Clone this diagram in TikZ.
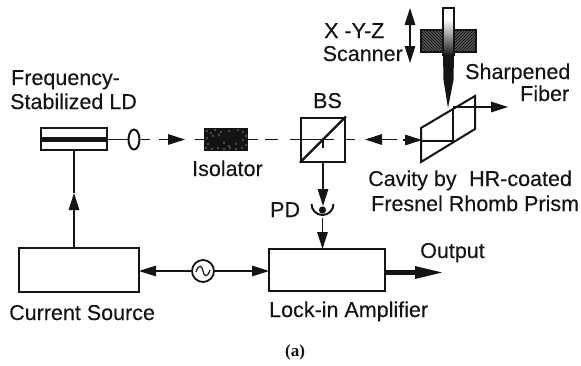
\documentclass[tikz,border=0pt]{standalone}
\usepackage{fontspec}
\setmainfont[FakeBold=0.2]{Liberation Sans}
\newfontfamily\capfont{Liberation Serif}
\usetikzlibrary{arrows.meta,calc,shapes.geometric}
\definecolor{ink}{gray}{0.08}
\tikzset{
  x=1pt,y=-1pt,
  thin line/.style={draw=ink,line width=1.5pt},
  box/.style={draw=ink,line width=2pt,fill=white},
  tip/.style={thin line,-{Triangle[length=17pt,width=10.5pt]},color=ink},
  dash seg/.style={draw=ink,line width=1.5pt},
  lbl/.style={inner sep=0pt,text=ink,font=\fontsize{21.5}{23}\selectfont,anchor=base west},
}
\begin{document}
\begin{tikzpicture}
\fill[white] (0,0) rectangle (581,365);
\useasboundingbox (0,0) rectangle (581,365);

% Laser diode
\draw[box] (41,128) rectangle (107,150);
\fill[ink] (41,136.5) rectangle (107,141.5);
\coordinate (ld) at (107,139.5);
\coordinate (ldb) at (74,150);
\node[draw=ink,line width=2pt,ellipse,minimum width=11pt,minimum height=20pt,inner sep=0pt,fill=white] (lens) at (134,139.5) {};
\draw[thin line] (ld) -- (lens.west);
\draw[dash seg] (lens.east) -- (150,139.5);
\coordinate (a1s) at (159,139.5); \coordinate (a1e) at (185,139.5);
\draw[tip] (a1s) -- (a1e);

% Isolator
\node[fill=ink,minimum width=44pt,minimum height=23pt,inner sep=0pt] (iso) at (226,139.5) {};
\foreach \px/\py in {207/131,211/133,215/130,221/132,229/131,238/130,243/132,246/136,207/138,213/136,219/135,208/144,243/140,246/145,206/148,212/149,218/148,224/149,230/148,236/149,242/148,229/146,236/144,224/143}
  \fill[white] (\px,\py) circle (0.55pt);
\draw[dash seg] (195,139.5) -- (iso.west);
\draw[dash seg] (iso.east) -- (258,139.5);
\draw[dash seg] (265,139.5) -- (278,139.5);

% Beam splitter
\node[draw=ink,line width=2pt,minimum width=44pt,minimum height=44pt,inner sep=0pt] (bs) at (323,139.5) {};
\draw[ink,line width=2.4pt] (bs.south west) -- (bs.north east);
\draw[dash seg] (290,139.5) -- (334,139.5);
\draw[thin line] (323,139.5) -- (323,148);
\draw[dash seg] (bs.east) -- (355,139.5);
\coordinate (a2s) at (380,139.5); \coordinate (a2e) at (365,139.5);
\draw[tip] (a2s) -- (a2e);
\coordinate (a2t) at (380,139.5);
\draw[dash seg] (a2t) -- (397,139.5);

% Prism
\coordinate (pa) at (421,128); \coordinate (pb) at (475,96);
\coordinate (pc) at (475,129); \coordinate (pd) at (421,162);
\draw[ink,line width=2pt,line join=miter] (pa) -- (pb) -- (pc) -- (pd) -- cycle;
\coordinate (pm1) at (453,110); \coordinate (pm2) at (453,141);
\draw[thin line] (pm1) -- (pm2) -- (421,141);
\coordinate (a3s) at (403,140); \coordinate (a3e) at (422,140);
\draw[tip] (a3s) -- (a3e);
\coordinate (a4e) at (508,107);
\draw[tip] (pm1 |- a4e) -- (a4e);

% Fibre holder
\begin{scope}
\clip (421,30) rectangle (448,52);
\foreach \k in {0,3,...,60} \draw[ink,line width=1.5pt] (400+\k,28) -- (426+\k,54);
\end{scope}
\begin{scope}
\clip (448,30) rectangle (476,52);
\foreach \k in {0,3,...,60} \draw[ink,line width=1.5pt] (426+\k,54) -- (452+\k,28);
\end{scope}
\draw[ink,line width=1.5pt] (421,30) rectangle (476,52);

% Fibre
\fill[white] (443,8) rectangle (454,30);
\shade[top color=white,bottom color=ink] (443,20) rectangle (454,56);
\draw[ink,line width=1.4pt] (443,56) -- (443,8) -- (454,8) -- (454,56);
\fill[ink] (443,55) -- (454,55) -- (453.5,80) -- (448,108) -- (443.5,80) -- cycle;

% Scanner arrow
\coordinate (sc1) at (410,8); \coordinate (sc2) at (410,63);
\draw[thin line,color=ink,{Triangle[length=17pt,width=10.5pt]}-{Triangle[length=17pt,width=10.5pt]}] (sc1) -- (sc2);

% Photodiode
\coordinate (bsb) at (323,162);
\coordinate (pdt) at (323,206);
\draw[tip] (bsb) -- (pdt);
\draw[ink,line width=2pt] (311.5,204) arc[start angle=180,end angle=360,radius=11pt];
\fill[ink] (322.5,210) circle (3.6pt);

% Blocks
\node[draw=ink,line width=1.8pt,minimum width=120pt,minimum height=44pt,inner sep=0pt] (cs) at (79,270) {};
\node[draw=ink,line width=1.8pt,minimum width=116pt,minimum height=42pt,inner sep=0pt] (li) at (327,270) {};
\node[draw=ink,line width=1.8pt,circle,minimum size=22pt,inner sep=0pt] (osc) at (203,271) {};
\draw[ink,line width=1.2pt] (196,272) .. controls (199,263) and (202,266) .. (203,271) .. controls (204,276) and (207,279) .. (210,270);

\draw[tip] (74,248) -- (74,193);
\draw[thin line] (74,193) -- (ldb);
\draw[tip] (322.5,218) -- (322.5,249);
\draw[tip] (osc.west) -- (139,271);
\draw[tip] (osc.east) -- (269,271);
\draw[ink,line width=5.5pt] (385,272.5) -- (416,272.5);
\fill[ink] (415,266) -- (442,272.5) -- (415,279) -- cycle;

% Labels
\node[lbl] at (11,85) {Frequency-};
\node[lbl] at (10,109) {Stabilized LD};
\node[lbl] at (313,108) {BS};
\node[lbl] at (192,176) {Isolator};
\node[lbl] at (324,38) {X -Y-Z};
\node[lbl,anchor=base east] at (403,61) {Scanner};
\node[lbl] at (465,79) {Sharpened};
\node[lbl] at (520,101) {Fiber};
\node[lbl] at (368,186) {Cavity by};
\node[lbl] at (469,186) {HR-coated};
\node[lbl] at (371,211) {Fresnel Rhomb Prism};
\node[lbl] at (270,217) {PD};
\node[lbl] at (9,320) {Current Source};
\node[lbl] at (269,317) {Lock-in Amplifier};
\node[lbl] at (420,258) {Output};
\node[inner sep=0pt,text=ink,font=\capfont\bfseries\fontsize{17}{19}\selectfont] at (295,352) {(a)};
\end{tikzpicture}
\end{document}
